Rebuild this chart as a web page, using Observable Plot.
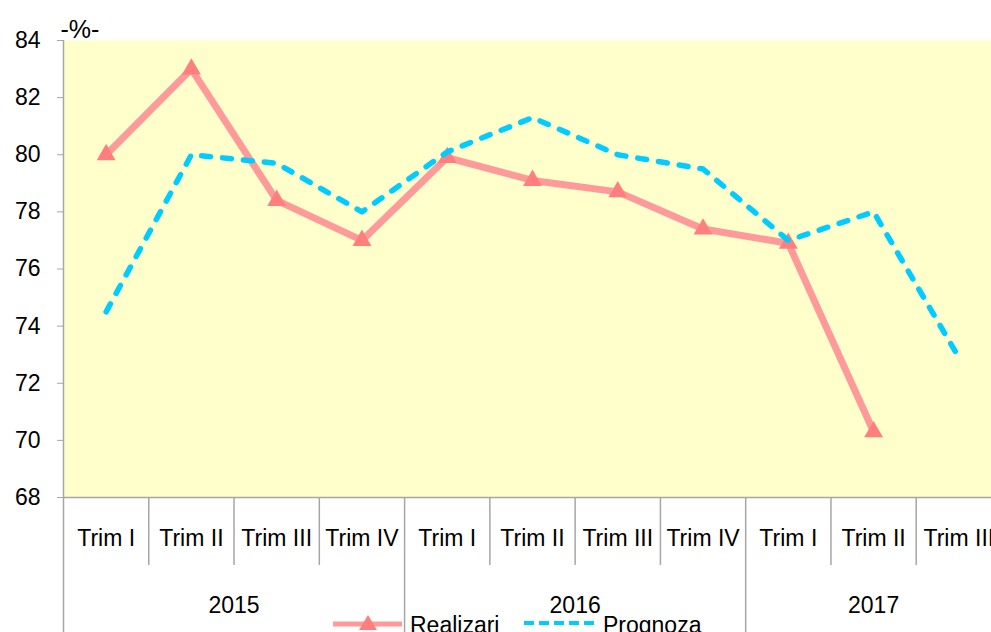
<!DOCTYPE html>
<html>
<head>
<meta charset="utf-8">
<script src="https://cdn.jsdelivr.net/npm/d3@7"></script>
<script src="https://cdn.jsdelivr.net/npm/@observablehq/plot@0.6"></script>
<style>
  html, body { margin: 0; padding: 0; background: #ffffff; overflow: hidden; }
  #wrap { position: relative; width: 991px; height: 632px; overflow: hidden; }
  #legend { position: absolute; left: 0; top: 0; pointer-events: none; }
</style>
</head>
<body>
<div id="wrap"></div>
<script>
// ---- data ----
const years = ["2015", "2016", "2017"];
const quartersPerYear = [4, 4, 3];
const quarters = ["Trim I", "Trim II", "Trim III", "Trim IV",
                  "Trim I", "Trim II", "Trim III", "Trim IV",
                  "Trim I", "Trim II", "Trim III"];
const realizari = [80.0, 83.0, 78.4, 77.0, 79.9, 79.1, 78.7, 77.4, 76.9, 70.3, null];
const prognoza  = [74.5, 80.0, 79.7, 78.0, 80.1, 81.3, 80.0, 79.5, 77.0, 78.0, 72.9];
const yTicks = [68, 70, 72, 74, 76, 78, 80, 82, 84];
const unitLabel = "-%-";
const seriesNames = ["Realizari", "Prognoza"];

// ---- derived tables ----
const n = quarters.length;
const rows = quarters.map((q, i) => ({pos: i + 0.5, q, r: realizari[i], p: prognoza[i]}));
const yearBounds = [0];
quartersPerYear.forEach(c => yearBounds.push(yearBounds[yearBounds.length - 1] + c));
const yearCenters = years.map((y, i) => (yearBounds[i] + yearBounds[i + 1]) / 2);
const quarterBounds = d3.range(1, n).filter(b => !yearBounds.includes(b));

const PINK = "#ff9a9a", PINK_MARK = "#ff7f7f", BLUE = "#00ccff", GRAY = "#a6a6a6";
const FONT = "'Liberation Sans', Arial, sans-serif";

const chart = Plot.plot({
  width: 1001,
  height: 632,
  marginLeft: 63,
  marginRight: 0,
  marginTop: 40,
  marginBottom: 135,
  style: {fontFamily: FONT, background: "transparent", maxWidth: "none", overflow: "visible", color: "#000"},
  x: {domain: [0, n], axis: null},
  y: {domain: [68, 84], axis: null},
  marks: [
    Plot.frame({fill: "#ffffcc", stroke: null}),
    Plot.ruleY([68], {stroke: GRAY, strokeWidth: 1.5}),
    Plot.ruleX([0], {stroke: GRAY, strokeWidth: 1.5}),
    Plot.axisY({ticks: yTicks, tickSize: 6, tickPadding: 17, fontSize: 23, stroke: GRAY, fill: "#000", label: null}),
    // category dividers
    Plot.axisX({ticks: quarterBounds, tickSize: 68, tickFormat: () => "", stroke: GRAY, strokeWidth: 1.5, label: null}),
    Plot.axisX({ticks: yearBounds, tickSize: 135, tickFormat: () => "", stroke: GRAY, strokeWidth: 1.5, label: null}),
    // category labels
    Plot.axisX({ticks: rows.map(d => d.pos), tickFormat: d => quarters[Math.floor(d)], tickSize: 0, tickPadding: 32, fontSize: 23, fill: "#000", label: null}),
    Plot.axisX({ticks: yearCenters, tickFormat: (d, i) => years[i], tickSize: 0, tickPadding: 99, fontSize: 23, fill: "#000", label: null}),
    Plot.text([unitLabel], {frameAnchor: "top-left", textAnchor: "start", lineAnchor: "bottom", dx: -3, dy: -3, fontSize: 25, fill: "#000"}),
    // series
    Plot.line(rows.filter(d => d.r != null), {x: "pos", y: "r", stroke: PINK, strokeWidth: 7, strokeLinejoin: "miter"}),
    Plot.dot(rows.filter(d => d.r != null), {x: "pos", y: "r", symbol: "triangle", r: 7, fill: PINK_MARK, stroke: null}),
    Plot.line(rows, {x: "pos", y: "p", stroke: BLUE, strokeWidth: 5.5, strokeDasharray: "9,12", strokeLinecap: "round", strokeLinejoin: "round"})
  ]
});
document.getElementById("wrap").appendChild(chart);

// ---- legend (overlapping the bottom, as in the reference) ----
const ns = "http://www.w3.org/2000/svg";
const leg = document.createElementNS(ns, "svg");
leg.setAttribute("id", "legend");
leg.setAttribute("width", 991);
leg.setAttribute("height", 632);
leg.innerHTML = `
  <line x1="333" y1="624" x2="402" y2="624" stroke="${PINK}" stroke-width="5"/>
  <path d="M368,615 L377,630 L359,630 Z" fill="${PINK_MARK}"/>
  <text x="410" y="633" font-family="${FONT.replace(/'/g, "")}" font-size="23" fill="#000">${seriesNames[0]}</text>
  <line x1="524" y1="623" x2="596" y2="623" stroke="${BLUE}" stroke-width="4" stroke-dasharray="10,5"/>
  <text x="603" y="633" font-family="${FONT.replace(/'/g, "")}" font-size="23" fill="#000">${seriesNames[1]}</text>
`;
document.getElementById("wrap").appendChild(leg);
</script>
</body>
</html>
